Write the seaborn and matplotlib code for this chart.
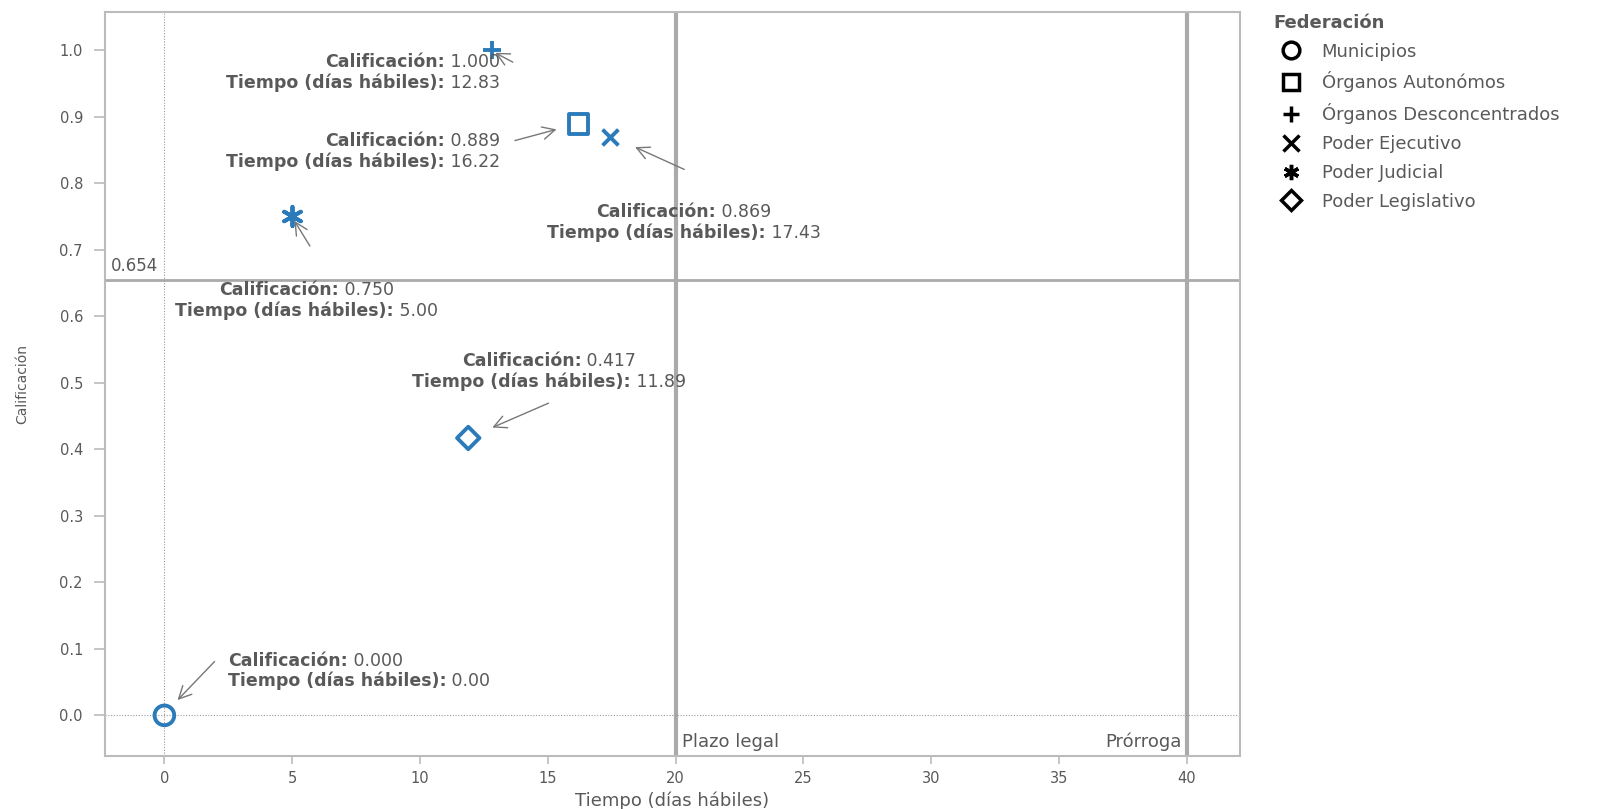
import pandas as pd
import matplotlib
matplotlib.use("Agg")
import matplotlib.pyplot as plt
from matplotlib.lines import Line2D
from matplotlib.offsetbox import TextArea, HPacker, VPacker, AnnotationBbox
import seaborn as sns

# data
federacion = ["Municipios", "Órganos Autonómos", "Órganos Desconcentrados",
              "Poder Ejecutivo", "Poder Judicial", "Poder Legislativo"]
tiempo = [0.00, 16.22, 12.83, 17.43, 5.00, 11.89]
calificacion = [0.000, 0.889, 1.000, 0.869, 0.750, 0.417]
marcadores = ["o", "s", "+", "x", (6, 2, 0), "D"]

promedio = 0.654
plazo_legal = 20
prorroga = 40

df = pd.DataFrame({"Federación": federacion, "Tiempo": tiempo, "Calificación": calificacion})

sns.set_style("white")
plt.rcParams["font.family"] = ["DejaVu Sans"]

gris = "#595959"
azul = "#2b7bba"
W, H = 1568, 793  # pixel grid the layout was measured on

fig = plt.figure(figsize=(16, 8.09), dpi=100)
ax = fig.add_axes([103 / W, 1 - 741 / H, (1215 - 103) / W, (741 - 12) / H])

# reference lines
ax.axhline(promedio, color="#aaaaaa", lw=2, zorder=1)
ax.axvline(plazo_legal, color="#aaaaaa", lw=3, zorder=1)
ax.axvline(prorroga, color="#aaaaaa", lw=3, zorder=1)
ax.axvline(0, color="#999999", lw=0.8, ls=(0, (1, 1.5)), zorder=1)
ax.axhline(0, color="#999999", lw=0.8, ls=(0, (1, 1.5)), zorder=1)

lineart = lambda m: m in ["+", "x"] or isinstance(m, tuple)
sizes = {"o": 200, "s": 190, "+": 180, "x": 130, "D": 130}
for i in range(len(df)):
    m = marcadores[i]
    s = sizes.get(m, 190) if not isinstance(m, tuple) else 190
    if lineart(m):
        sns.scatterplot(data=df.iloc[[i]], x="Tiempo", y="Calificación", marker=m,
                        s=s, color=azul, linewidth=2.8, ax=ax, legend=False, zorder=3)
    else:
        sns.scatterplot(data=df.iloc[[i]], x="Tiempo", y="Calificación", marker=m,
                        s=s, facecolors="none", edgecolor=azul, linewidth=2.8,
                        ax=ax, legend=False, zorder=3)

# annotations: (text x, text y, alignment, arrow tail, arrow head)
notas = [
    (2.48, 0.067, "left", (2.04, 0.084), (0.44, 0.020)),
    (13.13, 0.848, "right", (13.61, 0.863), (15.45, 0.882)),
    (13.13, 0.966, "right", (13.73, 0.980), (12.85, 0.998)),
    (20.32, 0.741, "center", (20.44, 0.819), (18.32, 0.856)),
    (5.55, 0.624, "center", (5.75, 0.702), (5.03, 0.747)),
    (15.05, 0.517, "center", (15.13, 0.471), (12.73, 0.431)),
]
box_x = {"left": 0, "right": 1, "center": 0.5}
for i, (tx, ty, al, tail, head) in enumerate(notas):
    bold = dict(color=gris, fontsize=12.5, fontweight="bold")
    reg = dict(color=gris, fontsize=12.5)
    l1 = HPacker(children=[TextArea("Calificación:", textprops=bold),
                           TextArea(f" {calificacion[i]:.3f}", textprops=reg)],
                 align="baseline", pad=0, sep=0)
    l2 = HPacker(children=[TextArea("Tiempo (días hábiles):", textprops=bold),
                           TextArea(f" {tiempo[i]:.2f}", textprops=reg)],
                 align="baseline", pad=0, sep=0)
    caja = VPacker(children=[l1, l2], align=al, pad=0, sep=1.5)
    ab = AnnotationBbox(caja, (tx, ty), xycoords="data", box_alignment=(box_x[al], 0.5),
                        frameon=False, pad=0, zorder=4)
    ax.add_artist(ab)
    ax.annotate("", xy=head, xytext=tail,
                arrowprops=dict(arrowstyle="->,head_length=0.9,head_width=0.45",
                                color="#777777", lw=1), zorder=4)

ax.text(-2.1, promedio + 0.008, f"{promedio:.3f}", fontsize=12, color=gris, va="bottom", ha="left")
ax.text(plazo_legal + 0.25, -0.04, "Plazo legal", fontsize=13, color=gris, va="center", ha="left")
ax.text(prorroga - 0.2, -0.04, "Prórroga", fontsize=13, color=gris, va="center", ha="right")

ax.set_xlim(-2.32, 42.08)
ax.set_ylim(-0.061, 1.057)
ax.set_xticks(range(0, 41, 5))
ax.set_yticks([i / 10 for i in range(11)])
ax.set_yticklabels([f"{i / 10:.1f}" for i in range(11)])
ax.tick_params(axis="both", width=1.2, color="#bbbbbb", labelcolor=gris,
               labelsize=10.5, direction="out", left=True, bottom=True)
ax.tick_params(axis="y", length=8, pad=8)
ax.tick_params(axis="x", length=6, pad=5)
ax.set_xlabel("Tiempo (días hábiles)", fontsize=13, color=gris, labelpad=4)
ax.set_ylabel("Calificación", fontsize=10, color=gris, labelpad=22)
for sp in ax.spines.values():
    sp.set_color("#bbbbbb")
    sp.set_linewidth(1.5)

handles = []
for f, m in zip(federacion, marcadores):
    if lineart(m):
        h = Line2D([], [], ls="none", marker=m, color="black", markersize=11, markeredgewidth=2.5)
    else:
        h = Line2D([], [], ls="none", marker=m, markerfacecolor="none", markeredgecolor="black",
                   markersize=12 if m != "D" else 10, markeredgewidth=2.5)
    handles.append(h)
leg = fig.legend(handles, federacion, title="Federación", loc="upper left",
                 bbox_to_anchor=(1244 / W, 1 - 10 / H), frameon=False,
                 fontsize=13, title_fontsize=13, labelspacing=0.6,
                 handletextpad=0.7, alignment="left", borderaxespad=0, borderpad=0.2)
leg.get_title().set_fontweight("bold")
leg.get_title().set_color(gris)
for t in leg.get_texts():
    t.set_color(gris)

fig.savefig("out.png", dpi=100)
